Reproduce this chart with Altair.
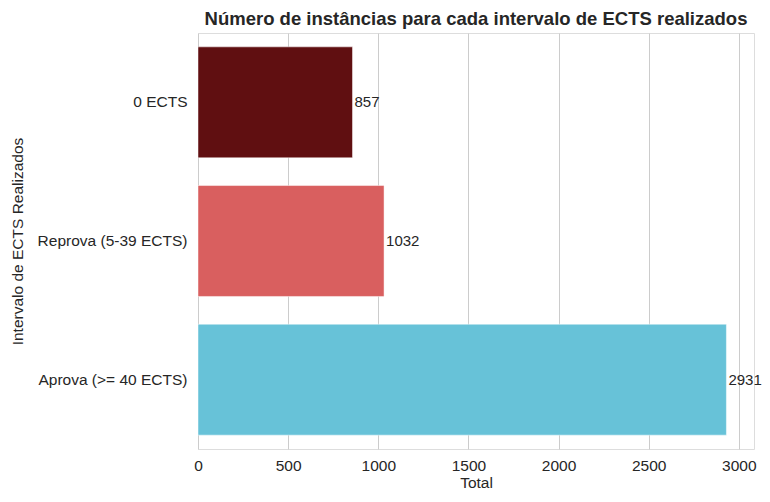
import altair as alt
import pandas as pd

categories = ["0 ECTS", "Reprova (5-39 ECTS)", "Aprova (>= 40 ECTS)"]
totals = [857, 1032, 2931]
colors = ["#600f11", "#d95f5f", "#67c2d8"]
x_ticks = [0, 500, 1000, 1500, 2000, 2500, 3000]

df = pd.DataFrame({"cat": categories, "total": totals, "color": colors})

FONT = "Liberation Sans"
TXT = "#262626"

y_enc = alt.Y("cat:N", sort=categories,
              scale=alt.Scale(paddingInner=0.2, paddingOuter=0.1),
              axis=alt.Axis(title="Intervalo de ECTS Realizados", ticks=False, domain=False,
                            labelPadding=11, labelFontSize=15.5, titleFontSize=15.5,
                            labelFont=FONT, titleFont=FONT, labelColor=TXT, titleColor=TXT,
                            titleFontWeight="normal", titlePadding=12, labelLimit=300))
x_enc = alt.X("total:Q", scale=alt.Scale(domain=[0, 3084], nice=False, zero=True),
              axis=alt.Axis(title="Total", values=x_ticks, ticks=False, domain=False,
                            format="d",
                            grid=True, gridColor="#cccccc", gridWidth=1,
                            labelPadding=9, labelFontSize=15.5, titleFontSize=15.5,
                            labelFont=FONT, titleFont=FONT, labelColor=TXT, titleColor=TXT,
                            titleFontWeight="normal", titlePadding=2, labelFlush=False))

bars = alt.Chart(df).mark_bar(stroke="#ffffff", strokeWidth=0.8, strokeOpacity=0.6).encode(
    x=x_enc, y=y_enc, color=alt.Color("color:N", scale=None)
)
labels = alt.Chart(df).mark_text(align="left", baseline="middle", dx=2, fontSize=15,
                                 font=FONT, color=TXT).encode(
    x="total:Q", y=alt.Y("cat:N", sort=categories), text="total:Q"
)

chart = alt.layer(bars, labels).properties(
    width=556, height=416,
    title=alt.Title("Número de instâncias para cada intervalo de ECTS realizados",
                    font=FONT, fontSize=18.5, fontWeight="bold", color=TXT, offset=5),
    autosize=alt.AutoSizeParams(type="none"),
    padding={"left": 190, "top": 25, "right": 8, "bottom": 45},
).configure_view(stroke="#cccccc", strokeWidth=1).configure(background="white")

chart.save("out.html", embed_options={"renderer": "svg", "actions": False})
